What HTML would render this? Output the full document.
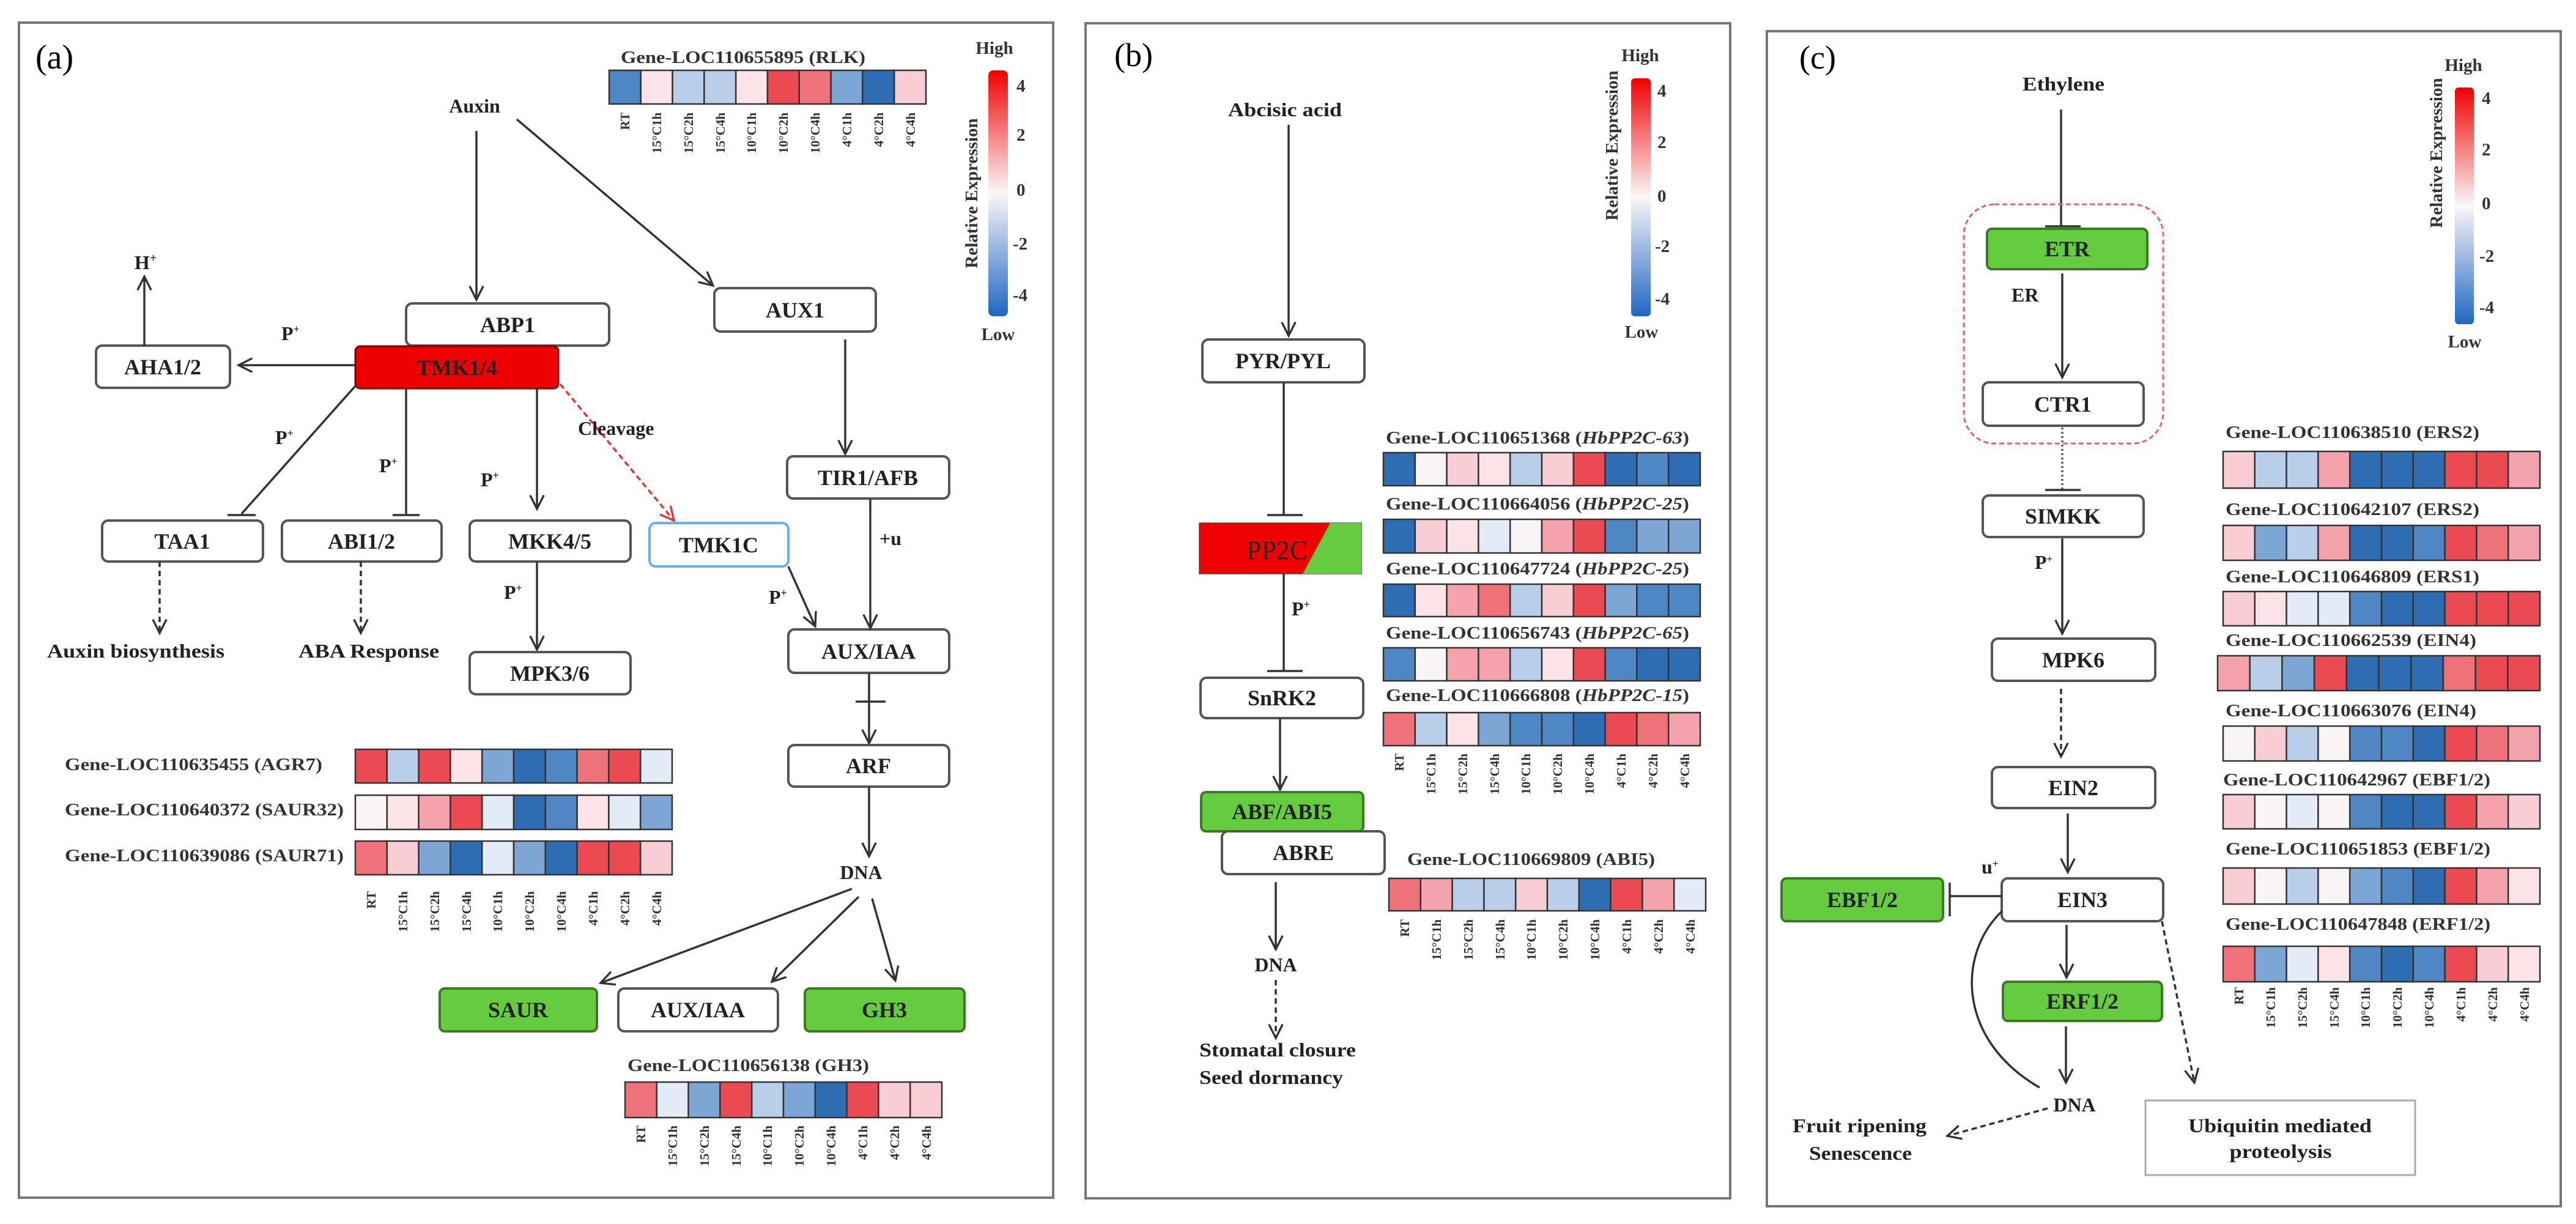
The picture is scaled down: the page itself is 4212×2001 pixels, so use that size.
<!DOCTYPE html>
<html><head><meta charset="utf-8">
<style>
html,body{margin:0;padding:0;background:#fff;}
svg{display:block;}
.bx{fill:#fff;stroke:#555;stroke-width:4;}
.gr{fill:#66cc3f;stroke:#3d7a26;stroke-width:4;}
.n{font-family:"Liberation Serif",serif;font-weight:bold;font-size:36px;text-anchor:middle;dominant-baseline:central;fill:#222;}
.t{font-family:"Liberation Serif",serif;font-weight:bold;font-size:32px;fill:#222;}
.h{font-family:"Liberation Serif",serif;font-weight:bold;font-size:29px;fill:#333;}
.c{font-family:"Liberation Serif",serif;font-weight:bold;font-size:21px;fill:#333;text-anchor:end;}
.ln{stroke:#333;stroke-width:3.5;fill:none;}
.ds{stroke:#333;stroke-width:3.5;fill:none;stroke-dasharray:9 6;}
rect.B,rect.M,rect.N,rect.L,rect.V,rect.W,rect.Q,rect.K,rect.P,rect.S,rect.R{stroke:#333;stroke-width:2.5;}
.B{fill:#2f6db3}.M{fill:#4f86c4}.N{fill:#7ea6d5}.L{fill:#b9cfe9}.V{fill:#e3ebf6}.W{fill:#f9f5f7}
.Q{fill:#fbe3e7}.K{fill:#f8cdd3}.P{fill:#f4a3ac}.S{fill:#ef727a}.R{fill:#ec4a52}
</style></head><body>
<svg width="4212" height="2001" viewBox="0 0 4212 2001" xmlns="http://www.w3.org/2000/svg">
<defs>
<marker id="ar" viewBox="0 0 10 10" refX="9" refY="5" markerWidth="28" markerHeight="28" markerUnits="userSpaceOnUse" orient="auto"><path d="M1,1 L9,5 L1,9" fill="none" stroke="#333" stroke-width="1.2"/></marker>
<marker id="arr" viewBox="0 0 10 10" refX="9" refY="5" markerWidth="28" markerHeight="28" markerUnits="userSpaceOnUse" orient="auto"><path d="M1,1 L9,5 L1,9" fill="none" stroke="#f03030" stroke-width="1.2"/></marker>
<linearGradient id="cb" x1="0" y1="0" x2="0" y2="1"><stop offset="0" stop-color="#f00000"/><stop offset="0.5" stop-color="#fbf7f8"/><stop offset="1" stop-color="#1f66c4"/></linearGradient>
</defs>

<!-- Panel borders -->
<rect x="31" y="37" width="1691" height="1921" fill="#fff" stroke="#777" stroke-width="4"/>
<rect x="1775" y="38" width="1054" height="1921" fill="#fff" stroke="#777" stroke-width="4"/>
<rect x="2889" y="51" width="1298" height="1921" fill="#fff" stroke="#777" stroke-width="4"/>

<!-- ================= PANEL A ================= -->
<text x="58" y="112" font-family="Liberation Serif" font-size="56">(a)</text>
<text class="h" x="1015" y="103" textLength="400" lengthAdjust="spacingAndGlyphs">Gene-LOC110655895 (RLK)</text>
<g transform="translate(996,115)">
<rect class="M" x="0" width="51.8" height="55"/><rect class="Q" x="51.8" width="51.8" height="55"/><rect class="L" x="103.6" width="51.8" height="55"/><rect class="L" x="155.4" width="51.8" height="55"/><rect class="Q" x="207.2" width="51.8" height="55"/><rect class="R" x="259" width="51.8" height="55"/><rect class="S" x="310.8" width="51.8" height="55"/><rect class="N" x="362.6" width="51.8" height="55"/><rect class="B" x="414.4" width="51.8" height="55"/><rect class="K" x="466.2" width="51.8" height="55"/>
</g>
<g transform="translate(996,184)">
<text class="c" transform="translate(33,0) rotate(-90)">RT</text><text class="c" transform="translate(85,0) rotate(-90)">15°C1h</text><text class="c" transform="translate(137,0) rotate(-90)">15°C2h</text><text class="c" transform="translate(189,0) rotate(-90)">15°C4h</text><text class="c" transform="translate(240,0) rotate(-90)">10°C1h</text><text class="c" transform="translate(292,0) rotate(-90)">10°C2h</text><text class="c" transform="translate(344,0) rotate(-90)">10°C4h</text><text class="c" transform="translate(396,0) rotate(-90)">4°C1h</text><text class="c" transform="translate(448,0) rotate(-90)">4°C2h</text><text class="c" transform="translate(500,0) rotate(-90)">4°C4h</text>
</g>
<!-- colorbar a -->
<rect x="1616" y="115" width="32" height="402" rx="8" fill="url(#cb)"/>
<text class="h" x="1626" y="88" text-anchor="middle">High</text>
<text class="h" x="1632" y="556" text-anchor="middle">Low</text>
<text class="h" transform="translate(1598,316) rotate(-90)" text-anchor="middle" font-size="26">Relative Expression</text>
<g class="h" font-size="22"><text x="1662" y="150">4</text><text x="1662" y="230">2</text><text x="1662" y="320">0</text><text x="1656" y="408">-2</text><text x="1656" y="492">-4</text></g>

<text class="t" x="776" y="184" text-anchor="middle">Auxin</text>
<line class="ln" x1="779" y1="214" x2="779" y2="490" marker-end="url(#ar)"/>
<line class="ln" x1="845" y1="195" x2="1166" y2="467" marker-end="url(#ar)"/>

<rect class="bx" x="664" y="496" width="332" height="69" rx="10"/><text class="n" x="830" y="531">ABP1</text>
<rect x="581" y="566" width="332" height="69" rx="8" fill="#ee0000" stroke="#8a0000" stroke-width="3"/><text class="n" x="747" y="601">TMK1/4</text>
<rect class="bx" x="157" y="565" width="219" height="69" rx="10"/><text class="n" x="266" y="600">AHA1/2</text>
<rect class="bx" x="1168" y="471" width="264" height="71" rx="10"/><text class="n" x="1300" y="507">AUX1</text>
<rect class="bx" x="1287" y="746" width="265" height="69" rx="10"/><text class="n" x="1419" y="781">TIR1/AFB</text>
<rect class="bx" x="167" y="851" width="263" height="67" rx="10"/><text class="n" x="298" y="885">TAA1</text>
<rect class="bx" x="461" y="851" width="261" height="67" rx="10"/><text class="n" x="591" y="885">ABI1/2</text>
<rect class="bx" x="768" y="851" width="263" height="67" rx="10"/><text class="n" x="899" y="885">MKK4/5</text>
<rect x="1062" y="855" width="227" height="71" rx="10" fill="#fff" stroke="#6ab0e6" stroke-width="4"/><text class="n" x="1175" y="891">TMK1C</text>
<rect class="bx" x="768" y="1066" width="263" height="69" rx="10"/><text class="n" x="899" y="1101">MPK3/6</text>
<rect class="bx" x="1289" y="1029" width="263" height="71" rx="10"/><text class="n" x="1420" y="1065">AUX/IAA</text>
<rect class="bx" x="1289" y="1218" width="263" height="68" rx="10"/><text class="n" x="1420" y="1252">ARF</text>
<rect class="gr" x="719" y="1616" width="257" height="70" rx="8"/><text class="n" x="847" y="1651">SAUR</text>
<rect class="bx" x="1011" y="1616" width="261" height="70" rx="10"/><text class="n" x="1141" y="1651">AUX/IAA</text>
<rect class="gr" x="1316" y="1616" width="261" height="70" rx="8"/><text class="n" x="1446" y="1651">GH3</text>

<text class="t" x="238" y="440" text-anchor="middle">H<tspan font-size="20" dy="-12">+</tspan></text>
<line class="ln" x1="236" y1="565" x2="236" y2="452" marker-end="url(#ar)"/>
<line class="ln" x1="581" y1="597" x2="390" y2="597" marker-end="url(#ar)"/>
<line class="ln" x1="581" y1="631" x2="395" y2="840"/><line class="ln" x1="372" y1="842" x2="418" y2="842"/>
<line class="ln" x1="664" y1="635" x2="664" y2="842"/><line class="ln" x1="642" y1="842" x2="686" y2="842"/>
<line class="ln" x1="878" y1="635" x2="878" y2="832" marker-end="url(#ar)"/>
<line x1="916" y1="628" x2="1102" y2="851" stroke="#f03030" stroke-width="3.5" stroke-dasharray="9 6" marker-end="url(#arr)"/>
<line class="ln" x1="878" y1="918" x2="878" y2="1062" marker-end="url(#ar)"/>
<line class="ln" x1="1289" y1="926" x2="1333" y2="1024" marker-end="url(#ar)"/>
<line class="ln" x1="1423" y1="815" x2="1423" y2="1027" marker-end="url(#ar)"/>
<line class="ln" x1="1382" y1="555" x2="1382" y2="742" marker-end="url(#ar)"/>
<line class="ds" x1="261" y1="918" x2="261" y2="1035" marker-end="url(#ar)"/>
<line class="ds" x1="590" y1="918" x2="590" y2="1035" marker-end="url(#ar)"/>
<line class="ln" x1="1421" y1="1100" x2="1421" y2="1215" marker-end="url(#ar)"/><line class="ln" x1="1399" y1="1147" x2="1448" y2="1147"/>
<line class="ln" x1="1421" y1="1286" x2="1421" y2="1400" marker-end="url(#ar)"/>
<line class="ln" x1="1393" y1="1453" x2="982" y2="1607" marker-end="url(#ar)"/>
<line class="ln" x1="1404" y1="1466" x2="1262" y2="1605" marker-end="url(#ar)"/>
<line class="ln" x1="1426" y1="1469" x2="1464" y2="1603" marker-end="url(#ar)"/>

<g class="t" font-size="30">
<text x="460" y="556">P<tspan font-size="18" dy="-12">+</tspan></text>
<text x="450" y="726">P<tspan font-size="18" dy="-12">+</tspan></text>
<text x="620" y="772">P<tspan font-size="18" dy="-12">+</tspan></text>
<text x="786" y="795">P<tspan font-size="18" dy="-12">+</tspan></text>
<text x="824" y="979">P<tspan font-size="18" dy="-12">+</tspan></text>
<text x="1257" y="987">P<tspan font-size="18" dy="-12">+</tspan></text>
<text x="1438" y="891">+u</text>
<text x="945" y="711">Cleavage</text>
<text x="1408" y="1437" text-anchor="middle">DNA</text>
</g>
<text class="t" x="77" y="1075" textLength="290" lengthAdjust="spacingAndGlyphs">Auxin biosynthesis</text>
<text class="t" x="488" y="1075" textLength="230" lengthAdjust="spacingAndGlyphs">ABA Response</text>

<text class="h" x="106" y="1259" textLength="421" lengthAdjust="spacingAndGlyphs">Gene-LOC110635455 (AGR7)</text>
<text class="h" x="106" y="1333" textLength="456" lengthAdjust="spacingAndGlyphs">Gene-LOC110640372 (SAUR32)</text>
<text class="h" x="106" y="1408" textLength="456" lengthAdjust="spacingAndGlyphs">Gene-LOC110639086 (SAUR71)</text>
<g transform="translate(581,1225)">
<rect class="R" x="0" width="51.8" height="55"/><rect class="L" x="51.8" width="51.8" height="55"/><rect class="R" x="103.6" width="51.8" height="55"/><rect class="Q" x="155.4" width="51.8" height="55"/><rect class="N" x="207.2" width="51.8" height="55"/><rect class="B" x="259" width="51.8" height="55"/><rect class="M" x="310.8" width="51.8" height="55"/><rect class="S" x="362.6" width="51.8" height="55"/><rect class="R" x="414.4" width="51.8" height="55"/><rect class="V" x="466.2" width="51.8" height="55"/>
</g>
<g transform="translate(581,1300)">
<rect class="W" x="0" width="51.8" height="56"/><rect class="Q" x="51.8" width="51.8" height="56"/><rect class="P" x="103.6" width="51.8" height="56"/><rect class="R" x="155.4" width="51.8" height="56"/><rect class="V" x="207.2" width="51.8" height="56"/><rect class="B" x="259" width="51.8" height="56"/><rect class="M" x="310.8" width="51.8" height="56"/><rect class="Q" x="362.6" width="51.8" height="56"/><rect class="V" x="414.4" width="51.8" height="56"/><rect class="N" x="466.2" width="51.8" height="56"/>
</g>
<g transform="translate(581,1375)">
<rect class="S" x="0" width="51.8" height="55"/><rect class="K" x="51.8" width="51.8" height="55"/><rect class="N" x="103.6" width="51.8" height="55"/><rect class="B" x="155.4" width="51.8" height="55"/><rect class="V" x="207.2" width="51.8" height="55"/><rect class="N" x="259" width="51.8" height="55"/><rect class="B" x="310.8" width="51.8" height="55"/><rect class="R" x="362.6" width="51.8" height="55"/><rect class="R" x="414.4" width="51.8" height="55"/><rect class="K" x="466.2" width="51.8" height="55"/>
</g>
<g transform="translate(581,1457)">
<text class="c" transform="translate(33,0) rotate(-90)">RT</text><text class="c" transform="translate(85,0) rotate(-90)">15°C1h</text><text class="c" transform="translate(137,0) rotate(-90)">15°C2h</text><text class="c" transform="translate(189,0) rotate(-90)">15°C4h</text><text class="c" transform="translate(240,0) rotate(-90)">10°C1h</text><text class="c" transform="translate(292,0) rotate(-90)">10°C2h</text><text class="c" transform="translate(344,0) rotate(-90)">10°C4h</text><text class="c" transform="translate(396,0) rotate(-90)">4°C1h</text><text class="c" transform="translate(448,0) rotate(-90)">4°C2h</text><text class="c" transform="translate(500,0) rotate(-90)">4°C4h</text>
</g>

<text class="h" x="1026" y="1751" textLength="395" lengthAdjust="spacingAndGlyphs">Gene-LOC110656138 (GH3)</text>
<g transform="translate(1022,1769)">
<rect class="S" x="0" width="51.8" height="58"/><rect class="V" x="51.8" width="51.8" height="58"/><rect class="N" x="103.6" width="51.8" height="58"/><rect class="R" x="155.4" width="51.8" height="58"/><rect class="L" x="207.2" width="51.8" height="58"/><rect class="N" x="259" width="51.8" height="58"/><rect class="B" x="310.8" width="51.8" height="58"/><rect class="R" x="362.6" width="51.8" height="58"/><rect class="K" x="414.4" width="51.8" height="58"/><rect class="K" x="466.2" width="51.8" height="58"/>
</g>
<g transform="translate(1022,1840)">
<text class="c" transform="translate(33,0) rotate(-90)">RT</text><text class="c" transform="translate(85,0) rotate(-90)">15°C1h</text><text class="c" transform="translate(137,0) rotate(-90)">15°C2h</text><text class="c" transform="translate(189,0) rotate(-90)">15°C4h</text><text class="c" transform="translate(240,0) rotate(-90)">10°C1h</text><text class="c" transform="translate(292,0) rotate(-90)">10°C2h</text><text class="c" transform="translate(344,0) rotate(-90)">10°C4h</text><text class="c" transform="translate(396,0) rotate(-90)">4°C1h</text><text class="c" transform="translate(448,0) rotate(-90)">4°C2h</text><text class="c" transform="translate(500,0) rotate(-90)">4°C4h</text>
</g>

<!-- ================= PANEL B ================= -->
<text x="1822" y="108" font-family="Liberation Serif" font-size="54">(b)</text>
<text class="t" x="2101" y="190" text-anchor="middle" textLength="186" lengthAdjust="spacingAndGlyphs">Abcisic acid</text>
<line class="ln" x1="2107" y1="204" x2="2107" y2="549" marker-end="url(#ar)"/>
<rect class="bx" x="1966" y="555" width="265" height="70" rx="10"/><text class="n" x="2098" y="590" font-size="32">PYR/PYL</text>
<line class="ln" x1="2099" y1="625" x2="2099" y2="842"/><line class="ln" x1="2072" y1="842" x2="2130" y2="842"/>
<rect x="1961" y="855" width="265" height="83" fill="#f00000" stroke="#444" stroke-width="1.5"/>
<polygon points="2175,855 2226,855 2226,938 2130,938" fill="#66cc3f"/>
<text x="2088" y="914" text-anchor="middle" font-family="Liberation Serif" font-size="44" fill="#222">PP2C</text>
<line class="ln" x1="2099" y1="938" x2="2099" y2="1097"/><line class="ln" x1="2072" y1="1097" x2="2130" y2="1097"/>
<text class="t" x="2112" y="1006" font-size="30">P<tspan font-size="18" dy="-12">+</tspan></text>
<rect class="bx" x="1963" y="1108" width="266" height="66" rx="10"/><text class="n" x="2096" y="1141" font-size="32">SnRK2</text>
<line class="ln" x1="2093" y1="1174" x2="2093" y2="1291" marker-end="url(#ar)"/>
<rect class="gr" x="1964" y="1295" width="265" height="64" rx="8"/><text class="n" x="2096" y="1327" font-size="32">ABF/ABI5</text>
<rect class="bx" x="1998" y="1359" width="266" height="70" rx="10"/><text class="n" x="2131" y="1394" font-size="32">ABRE</text>
<line class="ln" x1="2086" y1="1442" x2="2086" y2="1552" marker-end="url(#ar)"/>
<text class="t" x="2086" y="1588" text-anchor="middle">DNA</text>
<line class="ds" x1="2086" y1="1602" x2="2086" y2="1697" marker-end="url(#ar)"/>
<text class="t" x="1961" y="1727" textLength="256" lengthAdjust="spacingAndGlyphs">Stomatal closure</text>
<text class="t" x="1961" y="1772" textLength="235" lengthAdjust="spacingAndGlyphs">Seed dormancy</text>
<!-- colorbar b -->
<rect x="2667" y="128" width="32" height="389" rx="6" fill="url(#cb)"/>
<text class="h" x="2682" y="100" text-anchor="middle">High</text>
<text class="h" x="2684" y="552" text-anchor="middle">Low</text>
<text class="h" transform="translate(2645,238) rotate(-90)" text-anchor="middle" font-size="24">Relative Expression</text>
<g class="h" font-size="20"><text x="2710" y="158">4</text><text x="2710" y="242">2</text><text x="2710" y="330">0</text><text x="2706" y="412">-2</text><text x="2706" y="498">-4</text></g>

<g class="h">
<text x="2266" y="725" textLength="496" lengthAdjust="spacingAndGlyphs">Gene-LOC110651368 (<tspan font-style="italic">HbPP2C-63</tspan>)</text>
<text x="2266" y="833" textLength="496" lengthAdjust="spacingAndGlyphs">Gene-LOC110664056 (<tspan font-style="italic">HbPP2C-25</tspan>)</text>
<text x="2266" y="939" textLength="496" lengthAdjust="spacingAndGlyphs">Gene-LOC110647724 (<tspan font-style="italic">HbPP2C-25</tspan>)</text>
<text x="2266" y="1044" textLength="496" lengthAdjust="spacingAndGlyphs">Gene-LOC110656743 (<tspan font-style="italic">HbPP2C-65</tspan>)</text>
<text x="2266" y="1146" textLength="496" lengthAdjust="spacingAndGlyphs">Gene-LOC110666808 (<tspan font-style="italic">HbPP2C-15</tspan>)</text>
<text x="2301" y="1414" textLength="405" lengthAdjust="spacingAndGlyphs">Gene-LOC110669809 (ABI5)</text>
</g>
<g transform="translate(2262,740)">
<rect class="B" x="0" width="51.8" height="54"/><rect class="W" x="51.8" width="51.8" height="54"/><rect class="K" x="103.6" width="51.8" height="54"/><rect class="Q" x="155.4" width="51.8" height="54"/><rect class="L" x="207.2" width="51.8" height="54"/><rect class="K" x="259" width="51.8" height="54"/><rect class="R" x="310.8" width="51.8" height="54"/><rect class="B" x="362.6" width="51.8" height="54"/><rect class="M" x="414.4" width="51.8" height="54"/><rect class="B" x="466.2" width="51.8" height="54"/>
</g>
<g transform="translate(2262,849)">
<rect class="B" x="0" width="51.8" height="55"/><rect class="K" x="51.8" width="51.8" height="55"/><rect class="Q" x="103.6" width="51.8" height="55"/><rect class="V" x="155.4" width="51.8" height="55"/><rect class="W" x="207.2" width="51.8" height="55"/><rect class="P" x="259" width="51.8" height="55"/><rect class="R" x="310.8" width="51.8" height="55"/><rect class="M" x="362.6" width="51.8" height="55"/><rect class="N" x="414.4" width="51.8" height="55"/><rect class="N" x="466.2" width="51.8" height="55"/>
</g>
<g transform="translate(2262,955)">
<rect class="B" x="0" width="51.8" height="53"/><rect class="Q" x="51.8" width="51.8" height="53"/><rect class="P" x="103.6" width="51.8" height="53"/><rect class="S" x="155.4" width="51.8" height="53"/><rect class="L" x="207.2" width="51.8" height="53"/><rect class="K" x="259" width="51.8" height="53"/><rect class="R" x="310.8" width="51.8" height="53"/><rect class="N" x="362.6" width="51.8" height="53"/><rect class="M" x="414.4" width="51.8" height="53"/><rect class="M" x="466.2" width="51.8" height="53"/>
</g>
<g transform="translate(2262,1059)">
<rect class="M" x="0" width="51.8" height="54"/><rect class="W" x="51.8" width="51.8" height="54"/><rect class="P" x="103.6" width="51.8" height="54"/><rect class="P" x="155.4" width="51.8" height="54"/><rect class="L" x="207.2" width="51.8" height="54"/><rect class="Q" x="259" width="51.8" height="54"/><rect class="R" x="310.8" width="51.8" height="54"/><rect class="M" x="362.6" width="51.8" height="54"/><rect class="B" x="414.4" width="51.8" height="54"/><rect class="B" x="466.2" width="51.8" height="54"/>
</g>
<g transform="translate(2262,1165)">
<rect class="S" x="0" width="51.8" height="54"/><rect class="L" x="51.8" width="51.8" height="54"/><rect class="Q" x="103.6" width="51.8" height="54"/><rect class="N" x="155.4" width="51.8" height="54"/><rect class="M" x="207.2" width="51.8" height="54"/><rect class="M" x="259" width="51.8" height="54"/><rect class="B" x="310.8" width="51.8" height="54"/><rect class="R" x="362.6" width="51.8" height="54"/><rect class="S" x="414.4" width="51.8" height="54"/><rect class="P" x="466.2" width="51.8" height="54"/>
</g>
<g transform="translate(2262,1232)">
<text class="c" transform="translate(33,0) rotate(-90)">RT</text><text class="c" transform="translate(85,0) rotate(-90)">15°C1h</text><text class="c" transform="translate(137,0) rotate(-90)">15°C2h</text><text class="c" transform="translate(189,0) rotate(-90)">15°C4h</text><text class="c" transform="translate(240,0) rotate(-90)">10°C1h</text><text class="c" transform="translate(292,0) rotate(-90)">10°C2h</text><text class="c" transform="translate(344,0) rotate(-90)">10°C4h</text><text class="c" transform="translate(396,0) rotate(-90)">4°C1h</text><text class="c" transform="translate(448,0) rotate(-90)">4°C2h</text><text class="c" transform="translate(500,0) rotate(-90)">4°C4h</text>
</g>
<g transform="translate(2271,1436)">
<rect class="S" x="0" width="51.8" height="53"/><rect class="P" x="51.8" width="51.8" height="53"/><rect class="L" x="103.6" width="51.8" height="53"/><rect class="L" x="155.4" width="51.8" height="53"/><rect class="K" x="207.2" width="51.8" height="53"/><rect class="L" x="259" width="51.8" height="53"/><rect class="B" x="310.8" width="51.8" height="53"/><rect class="R" x="362.6" width="51.8" height="53"/><rect class="P" x="414.4" width="51.8" height="53"/><rect class="V" x="466.2" width="51.8" height="53"/>
</g>
<g transform="translate(2271,1503)">
<text class="c" transform="translate(33,0) rotate(-90)">RT</text><text class="c" transform="translate(85,0) rotate(-90)">15°C1h</text><text class="c" transform="translate(137,0) rotate(-90)">15°C2h</text><text class="c" transform="translate(189,0) rotate(-90)">15°C4h</text><text class="c" transform="translate(240,0) rotate(-90)">10°C1h</text><text class="c" transform="translate(292,0) rotate(-90)">10°C2h</text><text class="c" transform="translate(344,0) rotate(-90)">10°C4h</text><text class="c" transform="translate(396,0) rotate(-90)">4°C1h</text><text class="c" transform="translate(448,0) rotate(-90)">4°C2h</text><text class="c" transform="translate(500,0) rotate(-90)">4°C4h</text>
</g>

<!-- ================= PANEL C ================= -->
<text x="2942" y="112" font-family="Liberation Serif" font-size="54">(c)</text>
<text class="t" x="3374" y="148" text-anchor="middle" textLength="134" lengthAdjust="spacingAndGlyphs">Ethylene</text>
<line class="ln" x1="3370" y1="179" x2="3370" y2="370"/><line class="ln" x1="3344" y1="370" x2="3402" y2="370"/>
<rect x="3211" y="334" width="326" height="391" rx="50" fill="none" stroke="#f06060" stroke-width="3" stroke-dasharray="8 5"/>
<rect class="gr" x="3249" y="374" width="262" height="66" rx="8"/><text class="n" x="3380" y="407" font-size="32">ETR</text>
<text class="t" x="3289" y="493" font-size="30">ER</text>
<line class="ln" x1="3372" y1="447" x2="3372" y2="617" marker-end="url(#ar)"/>
<rect class="bx" x="3242" y="625" width="263" height="71" rx="10"/><text class="n" x="3373" y="661" font-size="32">CTR1</text>
<line x1="3372" y1="699" x2="3372" y2="801" stroke="#555" stroke-width="3.5" stroke-dasharray="3 4"/><line class="ln" x1="3344" y1="801" x2="3402" y2="801"/>
<rect class="bx" x="3242" y="810" width="263" height="68" rx="10"/><text class="n" x="3373" y="844" font-size="32">SIMKK</text>
<text class="t" x="3327" y="930" font-size="28">P<tspan font-size="17" dy="-11">+</tspan></text>
<line class="ln" x1="3372" y1="880" x2="3372" y2="1036" marker-end="url(#ar)"/>
<rect class="bx" x="3257" y="1044" width="267" height="69" rx="10"/><text class="n" x="3390" y="1079" font-size="32">MPK6</text>
<line class="ds" x1="3370" y1="1126" x2="3370" y2="1237" marker-end="url(#ar)"/>
<rect class="bx" x="3257" y="1254" width="267" height="67" rx="10"/><text class="n" x="3390" y="1288" font-size="32">EIN2</text>
<line class="ln" x1="3381" y1="1330" x2="3381" y2="1426" marker-end="url(#ar)"/>
<rect class="bx" x="3273" y="1436" width="264" height="70" rx="10"/><text class="n" x="3405" y="1471" font-size="32">EIN3</text>
<rect class="gr" x="2913" y="1436" width="264" height="70" rx="8"/><text class="n" x="3045" y="1471" font-size="32">EBF1/2</text>
<line class="ln" x1="3273" y1="1465" x2="3188" y2="1465"/><line class="ln" x1="3188" y1="1443" x2="3188" y2="1498"/>
<text class="t" x="3240" y="1428" font-size="28">u<tspan font-size="17" dy="-11">+</tspan></text>
<line class="ln" x1="3379" y1="1512" x2="3379" y2="1598" marker-end="url(#ar)"/>
<rect class="gr" x="3275" y="1605" width="260" height="64" rx="8"/><text class="n" x="3405" y="1637" font-size="32">ERF1/2</text>
<line class="ln" x1="3378" y1="1678" x2="3378" y2="1770" marker-end="url(#ar)"/>
<text class="t" x="3392" y="1817" text-anchor="middle">DNA</text>
<path class="ln" d="M3273,1490 C3200,1560 3200,1700 3335,1778"/>
<line class="ds" x1="3348" y1="1812" x2="3184" y2="1857" marker-end="url(#ar)"/>
<text class="t" x="2931" y="1851" textLength="219" lengthAdjust="spacingAndGlyphs">Fruit ripening</text>
<text class="t" x="2958" y="1896" textLength="168" lengthAdjust="spacingAndGlyphs">Senescence</text>
<line class="ds" x1="3535" y1="1506" x2="3588" y2="1770" marker-end="url(#ar)"/>
<rect x="3508" y="1799" width="441" height="122" fill="#fff" stroke="#aaa" stroke-width="3"/>
<text class="t" x="3728" y="1851" text-anchor="middle" textLength="300" lengthAdjust="spacingAndGlyphs">Ubiquitin mediated</text>
<text class="t" x="3729" y="1893" text-anchor="middle" textLength="167" lengthAdjust="spacingAndGlyphs">proteolysis</text>
<!-- colorbar c -->
<rect x="4014" y="143" width="31" height="387" rx="6" fill="url(#cb)"/>
<text class="h" x="4028" y="116" text-anchor="middle">High</text>
<text class="h" x="4030" y="568" text-anchor="middle">Low</text>
<text class="h" transform="translate(3993,250) rotate(-90)" text-anchor="middle" font-size="24">Relative Expression</text>
<g class="h" font-size="20"><text x="4058" y="170">4</text><text x="4058" y="254">2</text><text x="4058" y="342">0</text><text x="4054" y="428">-2</text><text x="4054" y="512">-4</text></g>

<g class="h">
<text x="3639" y="716" textLength="415" lengthAdjust="spacingAndGlyphs">Gene-LOC110638510 (ERS2)</text>
<text x="3639" y="842" textLength="415" lengthAdjust="spacingAndGlyphs">Gene-LOC110642107 (ERS2)</text>
<text x="3639" y="952" textLength="415" lengthAdjust="spacingAndGlyphs">Gene-LOC110646809 (ERS1)</text>
<text x="3639" y="1056" textLength="410" lengthAdjust="spacingAndGlyphs">Gene-LOC110662539 (EIN4)</text>
<text x="3639" y="1171" textLength="410" lengthAdjust="spacingAndGlyphs">Gene-LOC110663076 (EIN4)</text>
<text x="3635" y="1284" textLength="437" lengthAdjust="spacingAndGlyphs">Gene-LOC110642967 (EBF1/2)</text>
<text x="3639" y="1397" textLength="433" lengthAdjust="spacingAndGlyphs">Gene-LOC110651853 (EBF1/2)</text>
<text x="3639" y="1520" textLength="433" lengthAdjust="spacingAndGlyphs">Gene-LOC110647848 (ERF1/2)</text>
</g>
<g transform="translate(3635,738)">
<rect class="K" x="0" width="51.8" height="60"/><rect class="L" x="51.8" width="51.8" height="60"/><rect class="L" x="103.6" width="51.8" height="60"/><rect class="P" x="155.4" width="51.8" height="60"/><rect class="B" x="207.2" width="51.8" height="60"/><rect class="B" x="259" width="51.8" height="60"/><rect class="B" x="310.8" width="51.8" height="60"/><rect class="R" x="362.6" width="51.8" height="60"/><rect class="R" x="414.4" width="51.8" height="60"/><rect class="P" x="466.2" width="51.8" height="60"/>
</g>
<g transform="translate(3635,859)">
<rect class="K" x="0" width="51.8" height="57"/><rect class="N" x="51.8" width="51.8" height="57"/><rect class="L" x="103.6" width="51.8" height="57"/><rect class="P" x="155.4" width="51.8" height="57"/><rect class="B" x="207.2" width="51.8" height="57"/><rect class="B" x="259" width="51.8" height="57"/><rect class="M" x="310.8" width="51.8" height="57"/><rect class="R" x="362.6" width="51.8" height="57"/><rect class="S" x="414.4" width="51.8" height="57"/><rect class="P" x="466.2" width="51.8" height="57"/>
</g>
<g transform="translate(3635,967)">
<rect class="K" x="0" width="51.8" height="56"/><rect class="Q" x="51.8" width="51.8" height="56"/><rect class="V" x="103.6" width="51.8" height="56"/><rect class="V" x="155.4" width="51.8" height="56"/><rect class="M" x="207.2" width="51.8" height="56"/><rect class="B" x="259" width="51.8" height="56"/><rect class="B" x="310.8" width="51.8" height="56"/><rect class="R" x="362.6" width="51.8" height="56"/><rect class="R" x="414.4" width="51.8" height="56"/><rect class="R" x="466.2" width="51.8" height="56"/>
</g>
<g transform="translate(3626,1072)">
<rect class="P" x="0" width="52.7" height="57"/><rect class="L" x="52.7" width="52.7" height="57"/><rect class="N" x="105.4" width="52.7" height="57"/><rect class="R" x="158.1" width="52.7" height="57"/><rect class="B" x="210.8" width="52.7" height="57"/><rect class="B" x="263.5" width="52.7" height="57"/><rect class="B" x="316.2" width="52.7" height="57"/><rect class="S" x="368.9" width="52.7" height="57"/><rect class="R" x="421.6" width="52.7" height="57"/><rect class="R" x="474.3" width="52.7" height="57"/>
</g>
<g transform="translate(3635,1187)">
<rect class="W" x="0" width="51.8" height="57"/><rect class="K" x="51.8" width="51.8" height="57"/><rect class="L" x="103.6" width="51.8" height="57"/><rect class="W" x="155.4" width="51.8" height="57"/><rect class="M" x="207.2" width="51.8" height="57"/><rect class="M" x="259" width="51.8" height="57"/><rect class="B" x="310.8" width="51.8" height="57"/><rect class="R" x="362.6" width="51.8" height="57"/><rect class="S" x="414.4" width="51.8" height="57"/><rect class="P" x="466.2" width="51.8" height="57"/>
</g>
<g transform="translate(3635,1299)">
<rect class="K" x="0" width="51.8" height="56"/><rect class="W" x="51.8" width="51.8" height="56"/><rect class="V" x="103.6" width="51.8" height="56"/><rect class="W" x="155.4" width="51.8" height="56"/><rect class="M" x="207.2" width="51.8" height="56"/><rect class="B" x="259" width="51.8" height="56"/><rect class="B" x="310.8" width="51.8" height="56"/><rect class="R" x="362.6" width="51.8" height="56"/><rect class="P" x="414.4" width="51.8" height="56"/><rect class="K" x="466.2" width="51.8" height="56"/>
</g>
<g transform="translate(3635,1419)">
<rect class="K" x="0" width="51.8" height="59"/><rect class="W" x="51.8" width="51.8" height="59"/><rect class="L" x="103.6" width="51.8" height="59"/><rect class="W" x="155.4" width="51.8" height="59"/><rect class="N" x="207.2" width="51.8" height="59"/><rect class="M" x="259" width="51.8" height="59"/><rect class="B" x="310.8" width="51.8" height="59"/><rect class="R" x="362.6" width="51.8" height="59"/><rect class="P" x="414.4" width="51.8" height="59"/><rect class="Q" x="466.2" width="51.8" height="59"/>
</g>
<g transform="translate(3635,1547)">
<rect class="S" x="0" width="51.8" height="58"/><rect class="N" x="51.8" width="51.8" height="58"/><rect class="V" x="103.6" width="51.8" height="58"/><rect class="Q" x="155.4" width="51.8" height="58"/><rect class="M" x="207.2" width="51.8" height="58"/><rect class="B" x="259" width="51.8" height="58"/><rect class="M" x="310.8" width="51.8" height="58"/><rect class="R" x="362.6" width="51.8" height="58"/><rect class="K" x="414.4" width="51.8" height="58"/><rect class="Q" x="466.2" width="51.8" height="58"/>
</g>
<g transform="translate(3635,1614)">
<text class="c" transform="translate(33,0) rotate(-90)">RT</text><text class="c" transform="translate(85,0) rotate(-90)">15°C1h</text><text class="c" transform="translate(137,0) rotate(-90)">15°C2h</text><text class="c" transform="translate(189,0) rotate(-90)">15°C4h</text><text class="c" transform="translate(240,0) rotate(-90)">10°C1h</text><text class="c" transform="translate(292,0) rotate(-90)">10°C2h</text><text class="c" transform="translate(344,0) rotate(-90)">10°C4h</text><text class="c" transform="translate(396,0) rotate(-90)">4°C1h</text><text class="c" transform="translate(448,0) rotate(-90)">4°C2h</text><text class="c" transform="translate(500,0) rotate(-90)">4°C4h</text>
</g>
</svg>
</body></html>
